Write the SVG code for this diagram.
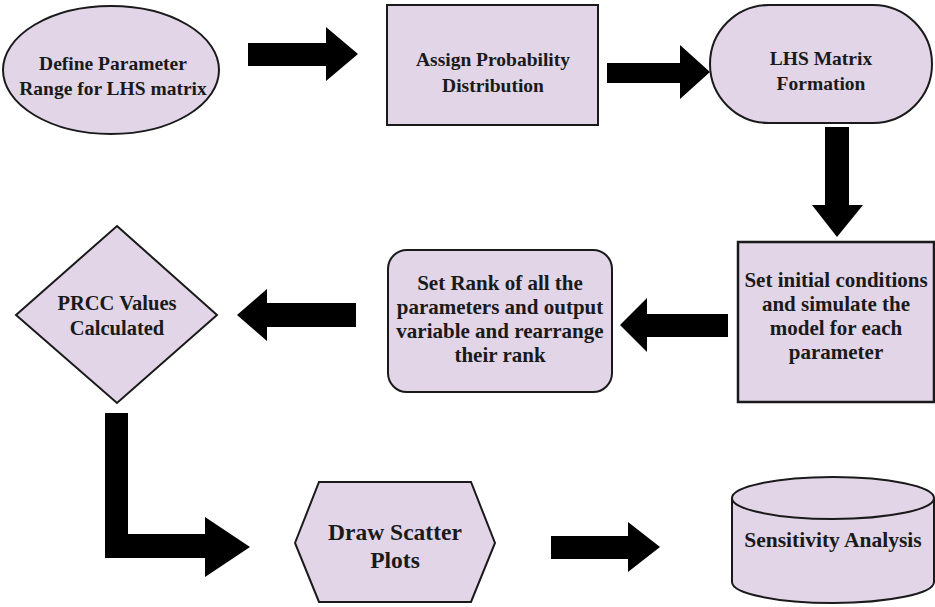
<svg xmlns="http://www.w3.org/2000/svg" width="935" height="607" viewBox="0 0 935 607">
<style>
.n{fill:#e1d5e7;stroke:#1a1a1a;stroke-width:2}
.a{fill:#000}
text{font-family:'Liberation Serif','Times New Roman',serif;font-weight:700;fill:#1a1a1a;text-anchor:middle}
.t1{font-size:19.5px}
.t2{font-size:21px}
.t3{font-size:23.5px}
</style>
<rect width="935" height="607" fill="#fff"/>
<g id="connectors">
<polygon class="a" points="248,43 326,43 326,27 358,54 326,81 326,66 248,66"/>
<polygon class="a" points="607,63 680,63 680,45 710,72 680,99 680,83 607,83"/>
<polygon class="a" points="825,127 849,127 849,205 863,205 837,237 812,205 825,205"/>
<polygon class="a" points="728,314 647,314 647,298 620,325 647,352 647,337 728,337"/>
<polygon class="a" points="356,303 267,303 267,289 237,315 267,341 267,327 356,327"/>
<polygon class="a" fill="#111" points="105,413 128,413 128,534 205,534 205,517 250,547 205,577 205,558 105,558"/>
<polygon class="a" points="551,536 628,536 628,522 660,547 628,572 628,559 551,559"/>
</g>
<g id="node-define">
<ellipse class="n" cx="111" cy="70" rx="108" ry="64"/>
<text class="t1" x="113" y="70">Define Parameter</text>
<text class="t1" x="113" y="95">Range for LHS matrix</text>
</g>
<g id="node-assign">
<rect class="n" x="387" y="5" width="211" height="120"/>
<text class="t1" x="493" y="66">Assign Probability</text>
<text class="t1" x="493" y="92">Distribution</text>
</g>
<g id="node-lhs">
<rect class="n" x="710" y="5" width="222" height="118" rx="59" ry="59"/>
<text class="t1" x="821" y="65">LHS Matrix</text>
<text class="t1" x="821" y="90">Formation</text>
</g>
<g id="node-simulate">
<rect class="n" x="738" y="242" width="196" height="160" style="stroke-width:2.5"/>
<text class="t2" x="836" y="287">Set initial conditions</text>
<text class="t2" x="836" y="311">and simulate the</text>
<text class="t2" x="836" y="335">model for each</text>
<text class="t2" x="836" y="359">parameter</text>
</g>
<g id="node-rank">
<rect class="n" x="388" y="250" width="224" height="142" rx="19" ry="19"/>
<text class="t2" x="500" y="290">Set Rank of all the</text>
<text class="t2" x="500" y="314">parameters and output</text>
<text class="t2" x="500" y="338">variable and rearrange</text>
<text class="t2" x="500" y="362">their rank</text>
</g>
<g id="node-prcc">
<polygon class="n" points="117,226 217,315 117,403 16,315"/>
<text class="t2" x="117" y="310" style="font-size:20.5px">PRCC Values</text>
<text class="t2" x="117" y="335" style="font-size:20.5px">Calculated</text>
</g>
<g id="node-scatter">
<polygon class="n" points="295,543 319,482 471,482 495,543 471,602 319,602"/>
<text class="t3" x="395" y="540">Draw Scatter</text>
<text class="t3" x="395" y="568">Plots</text>
</g>
<g id="node-sensitivity">
<path class="n" d="M732,498 A101,21 0 0 1 934,498 L934,582 A101,21 0 0 1 732,582 Z"/>
<path class="n" style="fill:none" d="M732,498 A101,21 0 0 0 934,498"/>
<text class="t2" x="833" y="547" style="font-size:21.5px">Sensitivity Analysis</text>
</g>
</svg>
